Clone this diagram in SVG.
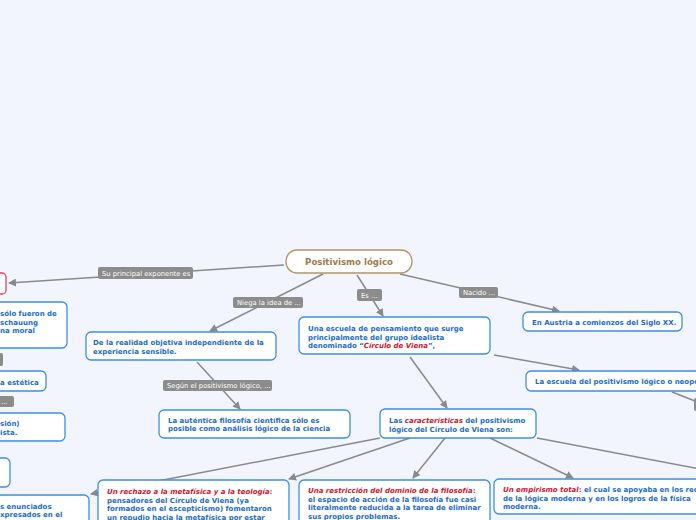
<svg xmlns="http://www.w3.org/2000/svg" width="696" height="520" viewBox="0 0 696 520">
<style>
.bg{fill:#f2f5fd}
.c{fill:none;stroke:#8a8a8a;stroke-width:1.5}
.n{fill:#fff;stroke:#3d8fe6;stroke-width:1.3}
.t{font-family:"DejaVu Sans",Verdana,sans-serif;font-weight:bold;font-size:7px;fill:#1c6cc8}
.r{fill:#cc1530;font-style:italic}
.l{fill:#8c8c8c}
.lt{font-family:"DejaVu Sans",Verdana,sans-serif;font-size:6.8px;fill:#fff}
</style>
<defs>
<marker id="a" markerUnits="userSpaceOnUse" markerWidth="8" markerHeight="8" refX="7" refY="4" orient="auto">
<path d="M0,0 L8,4 L0,8 z" fill="#8a8a8a"/>
</marker>
</defs>
<rect class="bg" x="0" y="0" width="696" height="520"/>
<g id="connectors">
<path class="c" d="M284,265 L9,283" marker-end="url(#a)"/>
<path class="c" d="M323,274 L210,331" marker-end="url(#a)"/>
<path class="c" d="M357,275 L383,316" marker-end="url(#a)"/>
<path class="c" d="M400,274 L559,311" marker-end="url(#a)"/>
<path class="c" d="M494,355 L579,370" marker-end="url(#a)"/>
<path class="c" d="M197,362 L240,409" marker-end="url(#a)"/>
<path class="c" d="M410,357 L447,408" marker-end="url(#a)"/>
<path class="c" d="M380,438 L91,494" marker-end="url(#a)"/>
<path class="c" d="M410,438 L289,479" marker-end="url(#a)"/>
<path class="c" d="M445,438 L413,478" marker-end="url(#a)"/>
<path class="c" d="M490,438 L573,478" marker-end="url(#a)"/>
<path class="c" d="M537,438 L700,469"/>
<path class="c" d="M672,392 L700,403"/>
</g>
<g id="labels">
<rect class="l" x="98" y="267" width="95" height="12" rx="2"/>
<text class="lt" x="102" y="275.5">Su principal exponente es</text>
<rect class="l" x="233" y="297" width="70" height="11" rx="2"/>
<text class="lt" x="237" y="305">Niega la idea de ...</text>
<rect class="l" x="357" y="289" width="25" height="12" rx="2"/>
<text class="lt" x="361" y="297.5">Es ...</text>
<rect class="l" x="459" y="287" width="39" height="11" rx="2"/>
<text class="lt" x="463" y="295">Nacido ...</text>
<rect class="l" x="163" y="380" width="109" height="11" rx="2"/>
<text class="lt" x="167" y="388">Según el positivismo lógico, ...</text>
<rect class="l" x="-4" y="353" width="7" height="13" rx="2"/>
<rect class="l" x="-4" y="396" width="18" height="11" rx="2"/>
<text class="lt" x="1" y="404">...</text>
<rect class="l" x="694" y="398" width="8" height="13" rx="2"/>
</g>
<g id="root">
<rect x="286" y="250" width="126" height="23" rx="11" fill="#fff" stroke="#b09468" stroke-width="1.3"/>
<text x="349" y="265" text-anchor="middle" font-family="DejaVu Sans,Verdana,sans-serif" font-weight="bold" font-size="8.6px" fill="#9c7c4c">Positivismo lógico</text>
</g>
<g id="n-left1">
<rect x="-10" y="273" width="16" height="21" rx="4" fill="#fff" stroke="#dd4560" stroke-width="1.3"/>
</g>
<g id="n-left2">
<rect class="n" x="-20" y="302" width="87" height="46" rx="5"/>
<text class="t" x="0" y="315.5">sólo fueron de</text>
<text class="t" x="0" y="324.5">schauung</text>
<text class="t" x="0" y="333">na moral</text>
</g>
<g id="n-left3">
<rect class="n" x="-20" y="371" width="66" height="20" rx="5"/>
<text class="t" x="0" y="384.5">a estética</text>
</g>
<g id="n-left4">
<rect class="n" x="-20" y="413" width="85" height="28" rx="5"/>
<text class="t" x="0" y="425.5">sión)</text>
<text class="t" x="0" y="434.5">ista.</text>
</g>
<g id="n-left5">
<rect class="n" x="-20" y="458" width="30" height="29" rx="5"/>
</g>
<g id="n-left6">
<rect class="n" x="-20" y="495" width="109" height="40" rx="5"/>
<text class="t" x="0" y="508.5">s enunciados</text>
<text class="t" x="0" y="517">xpresados en el</text>
</g>
<g id="n-realidad">
<rect class="n" x="86" y="332" width="190" height="28" rx="5"/>
<text class="t" x="93" y="344.5">De la realidad objetiva independiente de la</text>
<text class="t" x="93" y="353.5">experiencia sensible.</text>
</g>
<g id="n-escuela">
<rect class="n" x="299" y="317" width="191" height="37" rx="5"/>
<text class="t" x="308" y="330.5">Una escuela de pensamiento que surge</text>
<text class="t" x="308" y="339.5">principalmente del grupo idealista</text>
<text class="t" x="308" y="348">denominado “<tspan class="r">Círculo de Viena</tspan>”,</text>
</g>
<g id="n-autentica">
<rect class="n" x="159" y="410" width="191" height="28" rx="5"/>
<text class="t" x="168" y="422.5">La auténtica filosofía científica sólo es</text>
<text class="t" x="168" y="431">posible como análisis lógico de la ciencia</text>
</g>
<g id="n-caracteristicas">
<rect class="n" x="380" y="409" width="156" height="29" rx="5"/>
<text class="t" x="389" y="422.5">Las <tspan class="r">características</tspan> del positivismo</text>
<text class="t" x="389" y="431.5">lógico del Círculo de Viena son:</text>
</g>
<g id="n-austria">
<rect class="n" x="523" y="312" width="159" height="19" rx="5"/>
<text class="t" x="532" y="324.5">En Austria a comienzos del Siglo XX.</text>
</g>
<g id="n-escuela2">
<rect class="n" x="526" y="371" width="190" height="20" rx="5"/>
<text class="t" x="535" y="383.5">La escuela del positivismo lógico o neopo</text>
</g>
<g id="n-rechazo">
<rect class="n" x="98" y="480" width="191" height="50" rx="5"/>
<text class="t" x="107" y="493.5"><tspan class="r">Un rechazo a la metafísica y a la teología</tspan>:</text>
<text class="t" x="107" y="502.5">pensadores del Círculo de Viena (ya</text>
<text class="t" x="107" y="511">formados en el escepticismo) fomentaron</text>
<text class="t" x="107" y="519.5">un repudio hacia la metafísica por estar</text>
</g>
<g id="n-restriccion">
<rect class="n" x="299" y="480" width="191" height="50" rx="5"/>
<text class="t" x="308" y="492.5"><tspan class="r">Una restricción del dominio de la filosofía</tspan>:</text>
<text class="t" x="308" y="501.5">el espacio de acción de la filosofía fue casi</text>
<text class="t" x="308" y="510">literalmente reducida a la tarea de eliminar</text>
<text class="t" x="308" y="518.5">sus propios problemas.</text>
</g>
<g id="n-empirismo">
<rect class="n" x="494" y="479" width="220" height="35" rx="5"/>
<text class="t" x="503" y="491.5"><tspan class="r">Un empirismo total</tspan>: el cual se apoyaba en los rec</text>
<text class="t" x="503" y="500.5">de la lógica moderna y en los logros de la física</text>
<text class="t" x="503" y="509">moderna.</text>
</g>
</svg>
